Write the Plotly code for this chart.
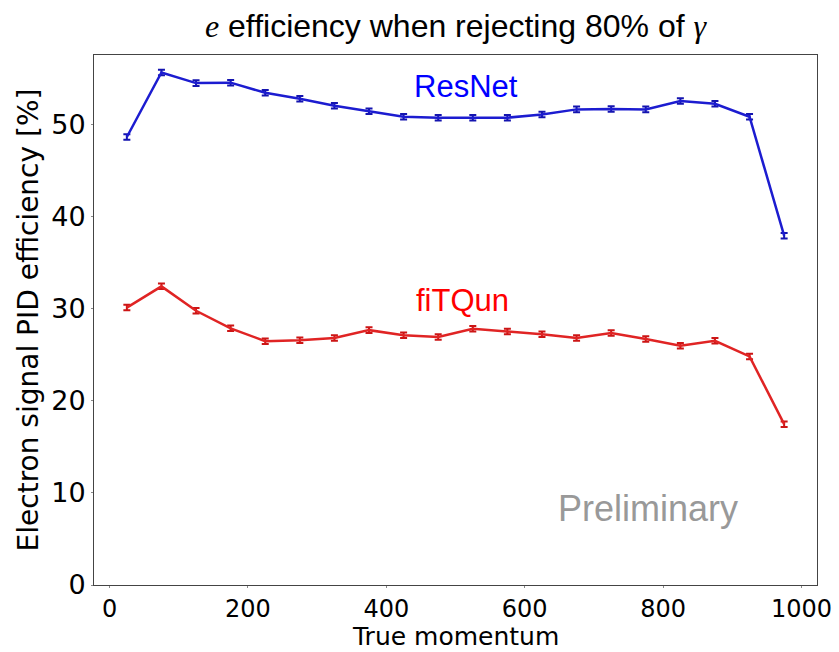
import plotly.graph_objects as go

momentum = [25, 75, 125, 175, 225, 275, 325, 375, 425, 475,
            525, 575, 625, 675, 725, 775, 825, 875, 925, 975]
resnet_eff = [48.6, 55.6, 54.45, 54.5, 53.4, 52.75, 52.0, 51.4, 50.8, 50.7,
              50.7, 50.7, 51.05, 51.6, 51.65, 51.6, 52.5, 52.2, 50.8, 37.9]
resnet_err = [0.3] * 20
fitqun_eff = [30.1, 32.4, 29.75, 27.85, 26.45, 26.55, 26.8, 27.65, 27.1, 26.9,
              27.8, 27.5, 27.2, 26.8, 27.35, 26.7, 25.95, 26.5, 24.8, 17.45]
fitqun_err = [0.3] * 20

x_ticks = [0, 200, 400, 600, 800, 1000]
y_ticks = [0, 10, 20, 30, 40, 50]

fig = go.Figure()
fig.add_trace(go.Scatter(
    x=momentum, y=resnet_eff, mode="lines",
    line=dict(color="#1c1cd0", width=2.5),
    error_y=dict(type="data", array=resnet_err, visible=True,
                 color="#1414b0", thickness=2, width=3.5),
    showlegend=False))
fig.add_trace(go.Scatter(
    x=momentum, y=fitqun_eff, mode="lines",
    line=dict(color="#e02424", width=2.5),
    error_y=dict(type="data", array=fitqun_err, visible=True,
                 color="#cc1515", thickness=2, width=3.5),
    showlegend=False))

fig.add_annotation(x=515, y=54.1, text="ResNet", showarrow=False,
                   font=dict(family="Liberation Sans", size=31, color="#0000ff"),
                   xanchor="center", yanchor="middle")
fig.add_annotation(x=510, y=30.9, text="fiTQun", showarrow=False,
                   font=dict(family="Liberation Sans", size=31, color="#ff0000"),
                   xanchor="center", yanchor="middle")
fig.add_annotation(x=778, y=8.3, text="Preliminary", showarrow=False,
                   font=dict(family="Liberation Sans", size=36, color="#999999"),
                   xanchor="center", yanchor="middle")
# x-axis title
fig.add_annotation(xref="paper", yref="paper", x=0.5, y=-(652 - 585) / 530,
                   text="True momentum", showarrow=False, borderpad=0,
                   font=dict(family="DejaVu Sans", size=25, color="black"),
                   xanchor="center", yanchor="bottom")

serif = "font-family:Liberation Serif"
title_text = (f"<span style='{serif}'><i>e</i></span> efficiency when rejecting 80% of "
              f"<span style='{serif}'><i>γ</i></span>")

fig.update_layout(
    width=839, height=652,
    margin=dict(l=94, r=22, t=55, b=67),
    paper_bgcolor="white", plot_bgcolor="white",
    title=dict(text=title_text, x=(94 + 817) / 2 / 839, xanchor="center",
               y=1 - 26 / 652, yanchor="middle",
               font=dict(family="Liberation Sans", size=32, color="black")),
    font=dict(family="DejaVu Sans", color="black"),
)
fig.update_xaxes(range=[-22.5, 1022.5], tickvals=x_ticks,
                 ticktext=[str(v) for v in x_ticks],
                 showgrid=False, zeroline=False, automargin=False,
                 showline=True, linecolor="#444444", linewidth=1, mirror=True,
                 ticks="outside", ticklen=2, tickcolor="#888888",
                 tickfont=dict(family="DejaVu Sans", size=24))
fig.update_yaxes(range=[0, 57.5], tickvals=y_ticks,
                 ticktext=[str(v) for v in y_ticks],
                 showgrid=False, zeroline=False, automargin=False,
                 showline=True, linecolor="#444444", linewidth=1, mirror=True,
                 ticks="outside", ticklen=2, tickcolor="#888888",
                 tickfont=dict(family="DejaVu Sans", size=27),
                 title=dict(text="Electron signal PID efficiency [%]", standoff=4,
                            font=dict(family="DejaVu Sans", size=28)))

fig.write_html("out.html")
